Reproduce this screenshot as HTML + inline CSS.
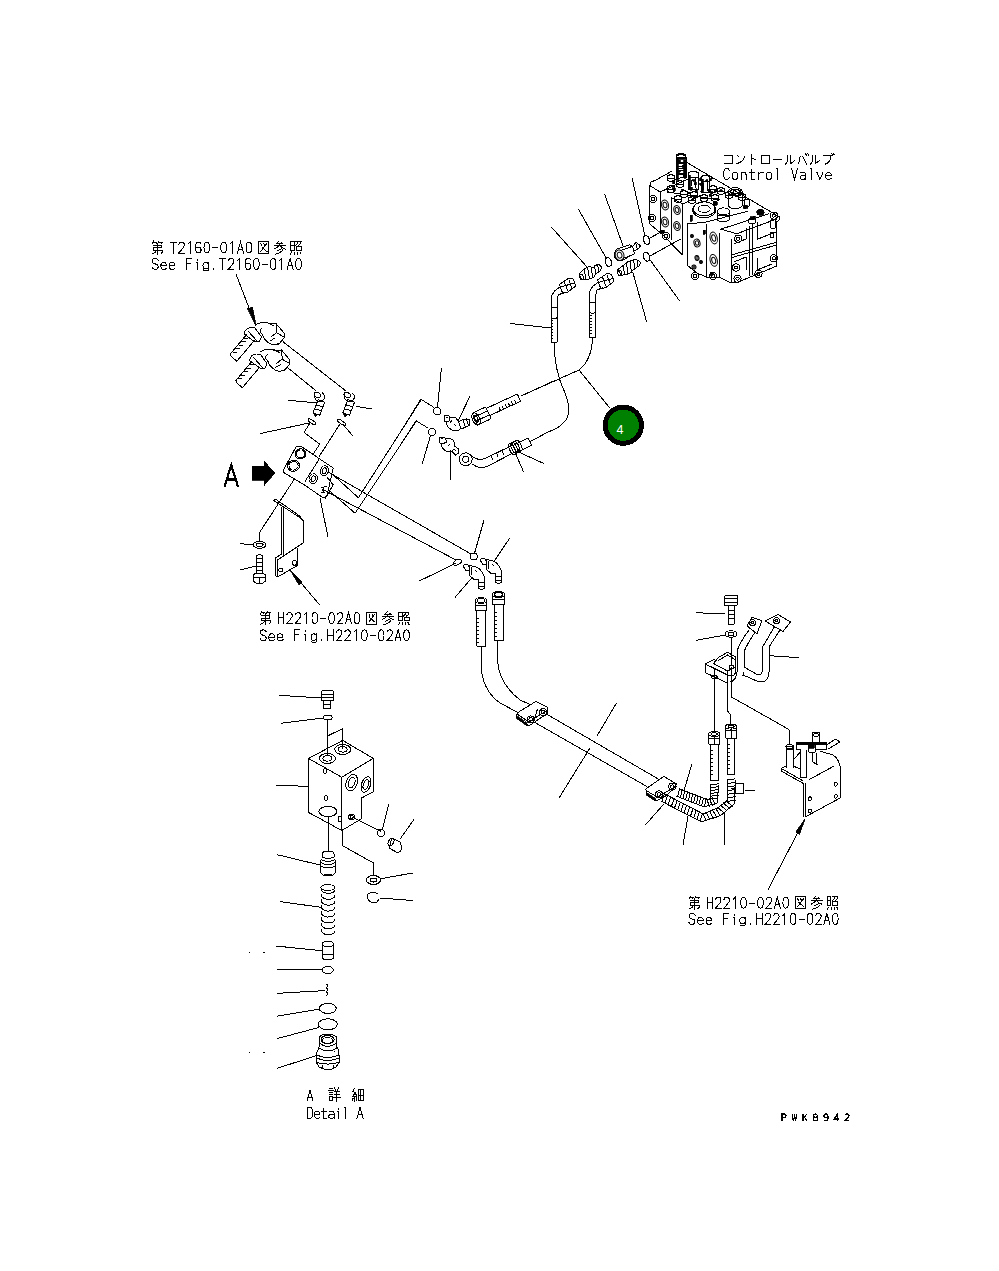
<!DOCTYPE html>
<html><head><meta charset="utf-8"><style>html,body{margin:0;padding:0;background:#fff;width:999px;height:1271px;overflow:hidden}svg{position:absolute;left:0;top:0}</style></head>
<body><svg width="999" height="1271" viewBox="0 0 999 1271" shape-rendering="crispEdges">
<rect width="999" height="1271" fill="#fff"/>
<g fill="none" stroke="#000" stroke-width="1" stroke-linecap="round" stroke-linejoin="round">
<path d="M649.8,224.0 L649.8,185.6 L651.0,182.0 L656.0,180.0 L672.0,171.0"/>
<path d="M676,178 V157 Q681,152 686,157 V178"/>
<ellipse cx="681.0" cy="156.0" rx="5.0" ry="2.2" transform="rotate(0 681.0 156.0)"/>
<path d="M676.0,163.0 L686.0,163.0"/>
<path d="M676.0,168.0 L686.0,168.0"/>
<path d="M676.0,173.0 L686.0,173.0"/>
<path d="M686.0,162.0 L779.3,216.8"/>
<path d="M779.3,216.8 Q781,219 776.7,222"/>
<path d="M776.7,222.0 L776.7,266.0"/>
<path d="M776.7,266.0 L736.0,283.0"/>
<path d="M736.0,283.0 L731.0,282.9"/>
<path d="M731.0,238.7 L731.0,282.9"/>
<path d="M719.3,233.8 L719.3,277.3"/>
<path d="M719.3,277.3 L731.0,282.9"/>
<path d="M720.7,229.2 L736.9,233.7"/>
<path d="M720.7,229.2 L768.5,213.9"/>
<path d="M706.3,222.0 L747.7,211.2"/>
<path d="M736.9,233.7 L776.7,219.0"/>
<path d="M706.7,224.0 L706.7,277.3"/>
<path d="M706.7,277.3 L719.3,277.3"/>
<path d="M687.0,224.0 L687.0,265.0"/>
<path d="M687.0,265.0 L696.8,273.0 L706.7,277.0"/>
<path d="M649.8,185.6 L660.2,192.0"/>
<path d="M660.2,192.0 L690.0,178.0"/>
<path d="M660.2,192.0 L660.2,232.0"/>
<path d="M671.4,197.6 L671.4,240.0"/>
<path d="M682.6,204.0 L682.6,255.0"/>
<path d="M649.8,224.0 L661.8,234.0"/>
<path d="M661.8,234.0 L682.6,255.0"/>
<path d="M671.4,197.6 L682.6,204.0"/>
<path d="M682.6,204.0 L700.0,196.0"/>
<path d="M687.0,224.0 L706.3,222.0"/>
<path d="M731.9,254.8 L776.7,242.2"/>
<path d="M731.9,257.5 L776.7,245.0"/>
<path d="M749.0,226.0 L749.0,276.0"/>
<path d="M752.5,224.5 L752.5,274.5"/>
<path d="M757.7,222.0 L757.7,239.1 L775.7,232.0"/>
<path d="M734.0,244.0 L746.0,239.0 L746.0,228.0"/>
<path d="M734.0,262.0 L746.0,257.0 L746.0,270.0"/>
<path d="M757.0,258.0 L757.0,270.0 L772.0,264.0"/>
<ellipse cx="665.0" cy="205.0" rx="3.5" ry="5.0" transform="rotate(-15 665.0 205.0)"/>
<ellipse cx="665.0" cy="205.0" rx="1.9" ry="2.8" transform="rotate(-15 665.0 205.0)"/>
<ellipse cx="665.0" cy="222.0" rx="3.5" ry="5.0" transform="rotate(-15 665.0 222.0)"/>
<ellipse cx="665.0" cy="222.0" rx="1.9" ry="2.8" transform="rotate(-15 665.0 222.0)"/>
<ellipse cx="677.0" cy="210.0" rx="3.2" ry="4.5" transform="rotate(-15 677.0 210.0)"/>
<ellipse cx="677.0" cy="210.0" rx="1.8" ry="2.5" transform="rotate(-15 677.0 210.0)"/>
<ellipse cx="677.0" cy="226.0" rx="3.2" ry="4.5" transform="rotate(-15 677.0 226.0)"/>
<ellipse cx="677.0" cy="226.0" rx="1.8" ry="2.5" transform="rotate(-15 677.0 226.0)"/>
<ellipse cx="713.7" cy="238.0" rx="3.5" ry="6.0" transform="rotate(-15 713.7 238.0)"/>
<ellipse cx="713.7" cy="238.0" rx="1.9" ry="3.3" transform="rotate(-15 713.7 238.0)"/>
<ellipse cx="713.7" cy="260.4" rx="3.5" ry="6.0" transform="rotate(-15 713.7 260.4)"/>
<ellipse cx="713.7" cy="260.4" rx="1.9" ry="3.3" transform="rotate(-15 713.7 260.4)"/>
<ellipse cx="697.0" cy="243.0" rx="3.0" ry="4.0" transform="rotate(-15 697.0 243.0)"/>
<ellipse cx="697.0" cy="243.0" rx="1.7" ry="2.2" transform="rotate(-15 697.0 243.0)"/>
<ellipse cx="697.0" cy="258.0" rx="2.0" ry="2.5" transform="rotate(-15 697.0 258.0)"/>
<ellipse cx="697.0" cy="258.0" rx="1.1" ry="1.4" transform="rotate(-15 697.0 258.0)"/>
<ellipse cx="692.0" cy="236.0" rx="1.5" ry="1.5" transform="rotate(-15 692.0 236.0)"/>
<ellipse cx="692.0" cy="236.0" rx="0.8" ry="0.8" transform="rotate(-15 692.0 236.0)"/>
<ellipse cx="701.0" cy="262.0" rx="1.5" ry="1.5" transform="rotate(-15 701.0 262.0)"/>
<ellipse cx="701.0" cy="262.0" rx="0.8" ry="0.8" transform="rotate(-15 701.0 262.0)"/>
<ellipse cx="694.0" cy="267.0" rx="2.0" ry="2.0" transform="rotate(-15 694.0 267.0)"/>
<ellipse cx="694.0" cy="267.0" rx="1.1" ry="1.1" transform="rotate(-15 694.0 267.0)"/>
<circle cx="653.0" cy="199.0" r="3.6"/>
<circle cx="653.0" cy="199.0" r="1.6"/>
<circle cx="738.2" cy="238.7" r="3.6"/>
<circle cx="738.2" cy="238.7" r="1.6"/>
<circle cx="773.9" cy="258.3" r="3.6"/>
<circle cx="773.9" cy="258.3" r="1.6"/>
<circle cx="736.1" cy="267.5" r="3.6"/>
<circle cx="736.1" cy="267.5" r="1.6"/>
<circle cx="737.5" cy="278.7" r="3.6"/>
<circle cx="737.5" cy="278.7" r="1.6"/>
<circle cx="758.5" cy="273.8" r="3.6"/>
<circle cx="758.5" cy="273.8" r="1.6"/>
<circle cx="773.9" cy="215.6" r="3.6"/>
<circle cx="773.9" cy="215.6" r="1.6"/>
<circle cx="666.0" cy="236.0" r="3.6"/>
<circle cx="666.0" cy="236.0" r="1.6"/>
<circle cx="695.0" cy="276.0" r="3.6"/>
<circle cx="695.0" cy="276.0" r="1.6"/>
<circle cx="652.0" cy="218.0" r="3.6"/>
<circle cx="652.0" cy="218.0" r="1.6"/>
<circle cx="713.0" cy="276.0" r="3.6"/>
<circle cx="713.0" cy="276.0" r="1.6"/>
<path d="M678.0,162.0 L684.0,162.0"/>
<path d="M678.0,166.0 L684.0,166.0"/>
<path d="M678.0,170.0 L684.0,170.0"/>
<path d="M678.0,174.0 L684.0,174.0"/>
<path d="M688.2,173 Q693,169.5 698.6,173 V189.6 H688.2 Z M688.2,177 H698.6 M691,180 V186 M695,178 V188"/>
<path d="M701,177 Q705,173.5 709.8,177 V192.8 H701 Z M701,181 H709.8 M703.5,183 V190 M707,182 V191"/>
<path d="M667.5,176 Q671,173.5 674.5,176 V180.5 Q671,182.5 667.5,180.5 Z M667.5,178 H674.5"/>
<path d="M676.5,182 Q680,179.5 683.5,182 V186.5 Q680,188.5 676.5,186.5 Z M676.5,184 H683.5"/>
<path d="M667.5,187 Q671,184.5 674.5,187 V191.5 Q671,193.5 667.5,191.5 Z M667.5,189 H674.5"/>
<path d="M680.5,192 Q684,189.5 687.5,192 V196.5 Q684,198.5 680.5,196.5 Z M680.5,194 H687.5"/>
<path d="M690.5,193 Q694,190.5 697.5,193 V197.5 Q694,199.5 690.5,197.5 Z M690.5,195 H697.5"/>
<path d="M700.5,196 Q704,193.5 707.5,196 V200.5 Q704,202.5 700.5,200.5 Z M700.5,198 H707.5"/>
<path d="M709.5,187 Q713,184.5 716.5,187 V191.5 Q713,193.5 709.5,191.5 Z M709.5,189 H716.5"/>
<path d="M717.5,189 Q721,186.5 724.5,189 V193.5 Q721,195.5 717.5,193.5 Z M717.5,191 H724.5"/>
<path d="M725.5,193 Q729,190.5 732.5,193 V197.5 Q729,199.5 725.5,197.5 Z M725.5,195 H732.5"/>
<path d="M733.5,191 Q737,188.5 740.5,191 V195.5 Q737,197.5 733.5,195.5 Z M733.5,193 H740.5"/>
<path d="M738.5,195 Q742,192.5 745.5,195 V199.5 Q742,201.5 738.5,199.5 Z M738.5,197 H745.5"/>
<path d="M711.5,196 Q715,193.5 718.5,196 V200.5 Q715,202.5 711.5,200.5 Z M711.5,198 H718.5"/>
<path d="M688.5,198 Q692,195.5 695.5,198 V202.5 Q692,204.5 688.5,202.5 Z M688.5,200 H695.5"/>
<path d="M674.5,197 Q678,194.5 681.5,197 V201.5 Q678,203.5 674.5,201.5 Z M674.5,199 H681.5"/>
<path d="M667.4,192.0 L720.0,200.0"/>
<path d="M672.0,181.0 L686.0,176.0"/>
<ellipse cx="704.2" cy="208.8" rx="10.8" ry="7.2" transform="rotate(0 704.2 208.8)"/>
<ellipse cx="704.2" cy="208.8" rx="6.0" ry="3.5" transform="rotate(0 704.2 208.8)"/>
<ellipse cx="704.2" cy="209.8" rx="11.5" ry="8.0" transform="rotate(0 704.2 209.8)"/>
<ellipse cx="735.1" cy="191.6" rx="7.0" ry="4.0" transform="rotate(0 735.1 191.6)"/>
<ellipse cx="735.1" cy="191.6" rx="4.5" ry="2.5" transform="rotate(0 735.1 191.6)"/>
<path d="M728.0,191.6 L728.0,206.0"/>
<path d="M742.3,191.6 L742.3,206.0"/>
<path d="M728,206 Q735,212 742.3,206"/>
<ellipse cx="723.4" cy="211.4" rx="6.0" ry="3.5" transform="rotate(0 723.4 211.4)"/>
<path d="M717.4,211.4 L717.4,220.0"/>
<path d="M729.4,211.4 L729.4,220.0"/>
<path d="M717.4,220 Q723,224 729.4,220"/>
<path d="M717.4,215.5 L729.4,215.5"/>
<ellipse cx="747.0" cy="203.0" rx="3.0" ry="4.0" transform="rotate(0 747.0 203.0)"/>
<ellipse cx="752.0" cy="221.0" rx="4.0" ry="3.0" transform="rotate(0 752.0 221.0)"/>
<ellipse cx="773.0" cy="224.0" rx="3.0" ry="5.0" transform="rotate(0 773.0 224.0)"/>
<ellipse cx="772.0" cy="235.0" rx="2.0" ry="3.0" transform="rotate(0 772.0 235.0)"/>
<ellipse cx="666.0" cy="268.0" rx="0.1" ry="0.1" transform="rotate(0 666.0 268.0)"/>
<path d="M551.2,226.9 L587.2,267.2"/>
<path d="M578.4,209.2 L605.7,257.3"/>
<path d="M604.9,194.8 L623.2,246.4"/>
<path d="M632.1,178.0 L644.9,235.7"/>
<path d="M679.3,300.5 L650.5,260.5"/>
<path d="M646.5,321.3 L632.9,272.5"/>
<ellipse cx="608.4" cy="262.0" rx="3.0" ry="4.5" transform="rotate(-20 608.4 262.0)"/>
<ellipse cx="646.5" cy="240.0" rx="3.0" ry="4.5" transform="rotate(-20 646.5 240.0)"/>
<ellipse cx="646.5" cy="256.8" rx="3.0" ry="4.5" transform="rotate(-20 646.5 256.8)"/>
<path d="M649.7,238.1 L660.1,232.5"/>
<path d="M650.5,255.7 L681.0,238.9"/>
<path d="M579.2,273.6 L584.0,268.8 L589.6,266.4 L592.8,268.0 L595.2,265.6 L598.4,264.0 L601.6,267.2 L600.0,271.2 L595.2,274.4 L593.6,277.6 L588.0,279.2 L581.6,280.0 Z"/>
<ellipse cx="581.6" cy="277.2" rx="2.0" ry="2.8" transform="rotate(-20 581.6 277.2)"/>
<path d="M584.0,268.8 L586.0,279.5"/>
<path d="M587.5,267.5 L589.5,278.5"/>
<path d="M591.0,267.0 L592.5,276.5"/>
<path d="M594.5,266.0 L596.0,274.0"/>
<path d="M597.5,264.5 L599.0,272.5"/>
<path d="M616.8,249.2 L629.6,244.8 L632.8,246.4 L636,242.4 L640.5,245.6 L638.5,248.8 L633.6,251.2 L634.4,253.6 L621.6,260.8 Q614,261 614.5,254 Q615,250 616.8,249.2 Z"/>
<ellipse cx="619.6" cy="255.2" rx="4.3" ry="5.3" transform="rotate(-15 619.6 255.2)"/>
<ellipse cx="619.6" cy="255.2" rx="2.3" ry="3.0" transform="rotate(-15 619.6 255.2)"/>
<path d="M620.8,250.4 L631.2,246.8"/>
<path d="M623.2,258.4 L633.6,254.4"/>
<path d="M632.8,246.4 L633.6,251.2"/>
<path d="M636.0,244.0 L637.5,249.5"/>
<path d="M617.6,269.6 L623.2,265.6 L628.0,261.6 L636.0,259.2 L640.9,262.4 L639.3,265.6 L633.6,269.6 L629.6,273.6 L621.6,275.2 Z"/>
<ellipse cx="619.6" cy="272.8" rx="2.0" ry="2.8" transform="rotate(-20 619.6 272.8)"/>
<path d="M623.2,265.6 L624.5,274.5"/>
<path d="M626.5,263.5 L628.0,273.5"/>
<path d="M630.0,261.0 L631.5,272.5"/>
<path d="M633.5,260.0 L635.0,268.5"/>
<path d="M637.0,259.7 L638.0,266.5"/>
<path d="M559.4,284.4 L569.0,278.0 L573.0,278.8 L575.8,286.0 L567.4,292.4 L562.6,293.2 Z M564.2,281.5 L567.5,290.0 M569.0,280.0 L572.0,288.5 M560.0,287.0 L575.0,283.0"/>
<path d="M560.2,286.8 L554.6,290.8 L551.4,296.4 V342.0 H557.4 V298.0 L558.6,294.8 L564.2,292.4"/>
<path d="M551.4,306.8 Q554.4,308.8 557.4,306.8 M551.4,317.6 Q554.4,319.6 557.4,317.6"/>
<path d="M551.4,320 H553.4"/>
<path d="M551.4,323 H553.4"/>
<path d="M551.4,326 H553.4"/>
<path d="M551.4,329 H553.4"/>
<path d="M551.4,332 H553.4"/>
<path d="M551.4,335 H553.4"/>
<path d="M551.4,338 H553.4"/>
<path d="M597.6,279.8 L607.2,273.4 L611.2,274.2 L614.0,281.4 L605.6,287.8 L600.8,288.6 Z M602.4,276.9 L605.7,285.4 M607.2,275.4 L610.2,283.9 M598.2,282.4 L613.2,278.4"/>
<path d="M598.4,282.2 L592.8,286.2 L589.6,291.8 V337.3 H595.6 V295.6 L596.8,290.2 L602.4,287.8"/>
<path d="M589.6,302.0 Q592.6,304.0 595.6,302.0 M589.6,312.4 Q592.6,314.4 595.6,312.4"/>
<path d="M589.6,315 H591.6"/>
<path d="M589.6,318 H591.6"/>
<path d="M589.6,321 H591.6"/>
<path d="M589.6,324 H591.6"/>
<path d="M589.6,327 H591.6"/>
<path d="M589.6,330 H591.6"/>
<path d="M589.6,333 H591.6"/>
<path d="M510.0,323.4 L550.5,328.0"/>
<path d="M554.2,342 Q554,370 565,393 Q572,410 566,420 Q560,428 548,432"/>
<path d="M592.6,337 Q592,360 579,370 L521,396"/>
<path d="M579.0,370.0 L609.7,407.9"/>
<g transform="rotate(-25 481.7 416.0)"><rect x="474.2" y="409.5" width="15.0" height="13.0" rx="1.5"/><path d="M474.2,413.8 H489.2 M474.2,418.2 H489.2"/></g>
<ellipse cx="476.0" cy="419.0" rx="3.5" ry="6.5" transform="rotate(-25 476.0 419.0)"/>
<ellipse cx="476.0" cy="419.0" rx="1.8" ry="3.5" transform="rotate(-25 476.0 419.0)"/>
<path d="M489.7,415.6 L520.7,401.2"/>
<path d="M486.3,408.4 L517.3,394.0"/>
<path d="M489.7,415.6 L486.3,408.4"/>
<path d="M520.7,401.2 L517.3,394.0"/>
<path d="M500.5,410.6 L499.2,407.7"/>
<path d="M503.6,409.1 L502.3,406.2"/>
<path d="M506.7,407.7 L505.4,404.8"/>
<path d="M509.8,406.3 L508.5,403.4"/>
<path d="M512.9,404.8 L511.6,401.9"/>
<path d="M516.0,403.4 L514.7,400.5"/>
<path d="M521.0,396.0 L556.0,380.0"/>
<circle cx="465.7" cy="459.3" r="6.5"/>
<circle cx="465.7" cy="459.3" r="3.0"/>
<path d="M471,455 Q478,462 486,458 L513,445 M472,464 Q480,470 488,466 L515,452"/>
<path d="M516.8,452.6 L531.8,445.3"/>
<path d="M513.2,445.4 L528.2,438.1"/>
<path d="M516.8,452.6 L513.2,445.4"/>
<path d="M531.8,445.3 L528.2,438.1"/>
<path d="M530.0,441.7 L548.0,432.0"/>
<ellipse cx="512.0" cy="449.0" rx="2.5" ry="6.0" transform="rotate(-25 512.0 449.0)"/>
<ellipse cx="514.2" cy="447.9" rx="2.5" ry="6.0" transform="rotate(-25 514.2 447.9)"/>
<ellipse cx="516.4" cy="446.8" rx="2.5" ry="6.0" transform="rotate(-25 516.4 446.8)"/>
<ellipse cx="518.6" cy="445.7" rx="2.5" ry="6.0" transform="rotate(-25 518.6 445.7)"/>
<path d="M491.4,455.4 L492.4,459.4"/>
<path d="M496.8,452.8 L497.8,456.8"/>
<path d="M502.2,450.2 L503.2,454.2"/>
<path d="M518.5,452.0 L543.3,463.3"/>
<path d="M515.3,452.9 L523.3,471.3"/>
<circle cx="437.2" cy="411.2" r="3.8"/>
<circle cx="432.0" cy="432.0" r="3.8"/>
<path d="M400.0,432.9 L420.8,399.2 L433.6,407.2"/>
<path d="M400.0,445.7 L416.0,420.8 L428.0,428.0"/>
<path d="M437.5,407.5 L441.3,368.8"/>
<path d="M430.4,436.0 L422.4,463.3"/>
<path d="M469.7,396.8 L458.5,420.0"/>
<path d="M450.4,450.5 L450.4,479.3"/>
<path d="M444,417 Q444,415.5 446,415.5 H448.5 Q449.5,416 449.5,418 V420.5 Q448,422 445,422 Q444,421 444,419 Z M446,418 L447.5,417.5"/>
<path d="M449.5,418 L451,417 H455 L458.5,421.5 M446,422 Q447,427 450,428.5 L452,430 H459 L461,428 M452,420 L450,423 M454,424 L456,426"/>
<path d="M458.5,421.5 L461,420.5 L465,419 H469 L470,423 L469,425.5 L466,427 L461,429 Z M463,420 L465.5,427.5 M466.5,419 L468.5,426"/>
<path d="M439.2,438 Q439,437 441,437 H444 Q446,438 446,440 V442.5 Q444,443.5 441,443.5 Q439,443 439.2,441 Z M441,439 L443,438.5"/>
<path d="M446,438.5 L449.6,438.4 L453,440 L454.5,443 V446 M441,444 Q441.5,448 444,449.5 L446,451 H452 L454,449 M448,446 L450,444"/>
<path d="M454.5,446 L458.5,449 V453 L455.5,455 L452.5,452 M454,449 L456,451"/>
<path d="M296,447 Q299,445 302,447 L333.2,468 L326.9,496 Q325,498 322,497 L303,484 L286,474 Q282,472 284,469 Z"/>
<path d="M319.8,458.1 L305.1,481.3"/>
<ellipse cx="300.6" cy="453.9" rx="5.5" ry="5.0" transform="rotate(-20 300.6 453.9)"/>
<ellipse cx="300.6" cy="453.9" rx="4.3" ry="3.8" transform="rotate(-20 300.6 453.9)"/>
<ellipse cx="293.6" cy="465.8" rx="6.0" ry="5.5" transform="rotate(-20 293.6 465.8)"/>
<ellipse cx="293.6" cy="465.8" rx="4.6" ry="4.2" transform="rotate(-20 293.6 465.8)"/>
<ellipse cx="324.4" cy="470.7" rx="4.0" ry="5.0" transform="rotate(20 324.4 470.7)"/>
<ellipse cx="324.4" cy="470.7" rx="2.0" ry="3.0" transform="rotate(20 324.4 470.7)"/>
<ellipse cx="313.2" cy="478.8" rx="4.0" ry="5.0" transform="rotate(20 313.2 478.8)"/>
<ellipse cx="313.2" cy="478.8" rx="2.0" ry="3.0" transform="rotate(20 313.2 478.8)"/>
<path d="M326.9,477.0 L333.2,484.8 L325.5,498.0"/>
<path d="M321,488 L327,486 M324,487 L323,493 M322,491 L326,490 M321,493 L325,492"/>
<path d="M333.0,474.7 L358.4,497.8 L421.1,399.8"/>
<path d="M328.6,490.1 L355.0,513.2 L416.7,420.7"/>
<path d="M328.0,472.0 L471.2,554.1"/>
<path d="M322.0,489.0 L455.0,559.5"/>
<path d="M320.0,498.0 L328.0,537.0"/>
<path d="M273.6,500.4 L275,498.8 L299.2,515.6 L303.2,520.8 M273.6,500.4 L299.2,517.2 L303.2,520.8 V542.8 L284,555.7"/>
<path d="M281.6,507.2 V554 L275.6,558 V576 L277.6,577 L297.6,565.3 V548.4 M283.6,507.2 V556 L277.6,560 V577"/>
<circle cx="280.8" cy="570.0" r="2.0"/>
<circle cx="294.4" cy="562.9" r="2.3"/>
<path d="M293.9,479.8 L259.6,532.4 L259.6,541.0"/>
<ellipse cx="259.6" cy="544.8" rx="6.5" ry="3.5" transform="rotate(0 259.6 544.8)"/>
<ellipse cx="259.6" cy="544.8" rx="3.5" ry="1.6" transform="rotate(0 259.6 544.8)"/>
<path d="M240.0,543.6 L253.0,545.0"/>
<path d="M256.4,573.3 V556 Q259.6,553.5 262.8,556 V573.3 M256.4,558 H262.8 M256.4,562 H262.8 M256.4,566 H262.8 M256.4,570 H262.8"/>
<path d="M253.2,575 L256,573 H263 L265.6,575 V581 L263,583 H256 L253.2,581 Z M253.2,577 H265.6 M259.6,577 V583"/>
<path d="M240.0,570.0 L256.0,566.0"/>
<path d="M289.6,569.3 L319.8,605.1"/>
<ellipse cx="312.0" cy="421.8" rx="4.6" ry="1.6" transform="rotate(35 312.0 421.8)"/>
<ellipse cx="341.5" cy="422.4" rx="5.0" ry="1.6" transform="rotate(35 341.5 422.4)"/>
<path d="M260.0,433.6 L310.0,422.8"/>
<path d="M343.1,424.7 L352.6,435.5"/>
<path d="M310.0,422.8 L304.1,432.5 L319.7,444.2 L313.2,454.0"/>
<path d="M339.9,424.1 L319.1,456.6"/>
<ellipse cx="317.4" cy="395.0" rx="3.5" ry="2.5" transform="rotate(30 317.4 395.0)"/>
<path d="M314.4,397 Q316.4,404 323.4,400 Q326.4,396 322.4,393"/>
<path d="M318.1,399.7 L313.1,412.7"/>
<path d="M324.7,402.3 L319.7,415.3"/>
<path d="M318.1,399.7 L324.7,402.3"/>
<path d="M313.1,412.7 L319.7,415.3"/>
<path d="M316.4,405.0 L323.4,407.0"/>
<path d="M315.4,409.0 L322.4,411.0"/>
<ellipse cx="347.2" cy="395.0" rx="3.5" ry="2.5" transform="rotate(30 347.2 395.0)"/>
<path d="M344.2,397 Q346.2,404 353.2,400 Q356.2,396 352.2,393"/>
<path d="M347.9,399.7 L342.9,412.7"/>
<path d="M354.5,402.3 L349.5,415.3"/>
<path d="M347.9,399.7 L354.5,402.3"/>
<path d="M342.9,412.7 L349.5,415.3"/>
<path d="M346.2,405.0 L353.2,407.0"/>
<path d="M345.2,409.0 L352.2,411.0"/>
<path d="M288.9,400.4 L317.9,403.0"/>
<path d="M371.5,408.9 L356.1,406.4"/>
<path d="M283.0,341.7 L345.9,391.0"/>
<path d="M288.0,368.0 L315.3,390.2"/>
<path d="M246.4,334.8 L230.4,354.0 L231.0,356.0 L236.8,361.3 L254.4,340.4"/>
<path d="M244.4,338.0 H248.4"/>
<path d="M241.5,341.5 H245.5"/>
<path d="M238.5,345.0 H242.5"/>
<path d="M235.5,348.5 H239.5"/>
<path d="M232.5,352.0 H236.5"/>
<path d="M244.0,334.0 Q245.0,328.0 251.0,327.5 L255.0,328.0 L261.5,337.0 L259.5,341.5 L255.0,342.0 Z M248.0,331.0 L257.0,341.0"/>
<path d="M255.0,325.0 Q261.0,321.5 268.0,323.0 L274.0,326.0 M262.0,334.0 Q258.0,331.0 262.0,328.0 M262.0,334.0 Q265.0,343.0 274.0,345.0 L280.0,343.0"/>
<path d="M268.0,324.0 L276.0,323.5 L284.0,333.0 L284.0,338.0 L279.0,344.0 L273.0,345.0 M276.0,325.0 L277.0,333.0 L284.0,337.0 M271.0,337.0 L276.0,333.0 M270.0,341.0 L275.0,338.0"/>
<path d="M251.9,361.3 L235.9,380.5 L236.5,382.5 L242.3,387.8 L259.9,366.9"/>
<path d="M249.9,364.5 H253.9"/>
<path d="M247.0,368.0 H251.0"/>
<path d="M244.0,371.5 H248.0"/>
<path d="M241.0,375.0 H245.0"/>
<path d="M238.0,378.5 H242.0"/>
<path d="M249.5,360.5 Q250.5,354.5 256.5,354.0 L260.5,354.5 L267.0,363.5 L265.0,368.0 L260.5,368.5 Z M253.5,357.5 L262.5,367.5"/>
<path d="M260.5,351.5 Q266.5,348.0 273.5,349.5 L279.5,352.5 M267.5,360.5 Q263.5,357.5 267.5,354.5 M267.5,360.5 Q270.5,369.5 279.5,371.5 L285.5,369.5"/>
<path d="M273.5,350.5 L281.5,350.0 L289.5,359.5 L289.5,364.5 L284.5,370.5 L278.5,371.5 M281.5,351.5 L282.5,359.5 L289.5,363.5 M276.5,363.5 L281.5,359.5 M275.5,367.5 L280.5,364.5"/>
<path d="M236.0,274.0 L255.7,325.5"/>
<circle cx="473.9" cy="556.5" r="3.5"/>
<ellipse cx="457.3" cy="562.3" rx="4.5" ry="2.5" transform="rotate(-30 457.3 562.3)"/>
<path d="M418.9,581.2 L455.9,563.2"/>
<path d="M483.8,520.8 L474.8,552.3"/>
<path d="M509.9,537.9 L494.6,560.5"/>
<path d="M455.0,597.4 L471.2,578.5"/>
<path d="M463.0,566.0 L465.0,564.5 L468.0,565.0 L470.0,568.0 L469.0,570.5 L466.0,570.5 Z"/>
<path d="M468.0,565.0 L472.0,566.0 L474.0,566.5 Q481.0,567.0 484.5,577.5 V589.0 M469.0,570.5 L470.0,576.0 L473.5,579.0 L478.5,580.0 V589.0"/>
<path d="M478.5,582.0 H484.5 M478.5,586.0 H484.5 M478.5,588.0 Q481.5,591.0 484.5,588.0 M472.0,567.0 L471.0,575.0 M475.0,570.0 L477.0,572.0"/>
<path d="M480.0,560.0 L482.0,558.5 L485.0,559.0 L487.0,562.0 L486.0,564.5 L483.0,564.5 Z"/>
<path d="M485.0,559.0 L489.0,560.0 L491.0,560.5 Q498.0,561.0 501.5,571.5 V583.0 M486.0,564.5 L487.0,570.0 L490.5,573.0 L495.5,574.0 V583.0"/>
<path d="M495.5,576.0 H501.5 M495.5,580.0 H501.5 M495.5,582.0 Q498.5,585.0 501.5,582.0 M489.0,561.0 L488.0,569.0 M492.0,564.0 L494.0,566.0"/>
<ellipse cx="481.0" cy="600.5" rx="5.8" ry="3.0" transform="rotate(0 481.0 600.5)"/>
<ellipse cx="481.0" cy="600.5" rx="3.8" ry="2.0" transform="rotate(0 481.0 600.5)"/>
<path d="M475.2,600.5 L475.2,610.0"/>
<path d="M486.8,600.5 L486.8,610.0"/>
<path d="M475.2,605.0 L486.8,605.0"/>
<path d="M475.2,610.0 L486.8,610.0"/>
<path d="M476.5,610.0 L476.5,646.0"/>
<path d="M485.5,610.0 L485.5,646.0"/>
<path d="M476.5,610.0 L485.5,610.0"/>
<path d="M476.5,646.0 L485.5,646.0"/>
<path d="M476.5,618.0 L479.0,618.0"/>
<path d="M476.5,622.0 L479.0,622.0"/>
<path d="M476.5,626.0 L479.0,626.0"/>
<path d="M476.5,630.0 L479.0,630.0"/>
<path d="M476.5,634.0 L479.0,634.0"/>
<path d="M476.5,638.0 L479.0,638.0"/>
<path d="M476.5,642.0 L479.0,642.0"/>
<ellipse cx="498.5" cy="594.5" rx="6.2" ry="3.0" transform="rotate(0 498.5 594.5)"/>
<ellipse cx="498.5" cy="594.5" rx="4.2" ry="2.0" transform="rotate(0 498.5 594.5)"/>
<path d="M492.2,594.5 L492.2,604.6"/>
<path d="M504.8,594.5 L504.8,604.6"/>
<path d="M492.2,599.0 L504.8,599.0"/>
<path d="M492.2,604.6 L504.8,604.6"/>
<path d="M494.0,604.6 L494.0,640.6"/>
<path d="M503.0,604.6 L503.0,640.6"/>
<path d="M494.0,604.6 L503.0,604.6"/>
<path d="M494.0,640.6 L503.0,640.6"/>
<path d="M494.0,612.0 L496.5,612.0"/>
<path d="M494.0,616.0 L496.5,616.0"/>
<path d="M494.0,620.0 L496.5,620.0"/>
<path d="M494.0,624.0 L496.5,624.0"/>
<path d="M494.0,628.0 L496.5,628.0"/>
<path d="M494.0,632.0 L496.5,632.0"/>
<path d="M494.0,636.0 L496.5,636.0"/>
<path d="M481,646 V665 Q482,690 500,703 L517.4,712.2"/>
<path d="M497.6,641 V662 Q500,685 520.4,700.2 L530,704.4"/>
<path d="M517.4,712.8 L536,701.4 L547.4,707.4 V713.4 L528.8,726 L516.2,716.4 Z M537.2,709.8 L533.6,722.4 M517,714 L528.8,722 L547.4,710"/>
<circle cx="530.6" cy="719.4" r="3.5"/>
<circle cx="530.6" cy="719.4" r="1.8"/>
<circle cx="543.2" cy="712.2" r="3.5"/>
<circle cx="543.2" cy="712.2" r="1.8"/>
<path d="M547.4,714.6 L659.0,779.4"/>
<path d="M534.8,722.4 L647.0,786.6"/>
<path d="M616.2,703.5 L597.0,736.0"/>
<path d="M590.0,748.0 L559.0,798.0"/>
<path d="M645.8,789 L663.8,776.4 L677,784.2 L667.4,795 L656.6,801 L647,793.8 Z M647,791 L657,797 L677,786"/>
<circle cx="672.2" cy="786.6" r="3.5"/>
<circle cx="672.2" cy="786.6" r="1.8"/>
<circle cx="659.0" cy="794.4" r="3.5"/>
<circle cx="659.0" cy="794.4" r="1.8"/>
<path d="M677.7,796.7 L679.4,788.8"/>
<path d="M680.3,797.7 L682.1,789.8"/>
<path d="M683.0,798.7 L684.8,790.8"/>
<path d="M685.6,799.8 L687.4,791.9"/>
<path d="M688.3,800.8 L690.1,792.9"/>
<path d="M691.0,801.8 L692.7,793.9"/>
<path d="M693.6,802.9 L695.4,795.0"/>
<path d="M696.3,803.9 L698.1,796.0"/>
<path d="M698.9,804.9 L700.7,797.0"/>
<path d="M701.6,806.0 L703.4,798.1"/>
<path d="M704.3,807.0 L706.0,799.1"/>
<path d="M709.4,806.1 L706.5,798.6"/>
<path d="M712.2,805.5 L709.3,798.0"/>
<path d="M715.0,804.9 L712.0,797.3"/>
<path d="M718.1,798.1 L710.0,799.2"/>
<path d="M718.1,795.3 L710.1,796.3"/>
<path d="M718.2,792.4 L710.1,793.5"/>
<path d="M718.2,789.6 L710.2,790.6"/>
<path d="M718.3,786.7 L710.2,787.8"/>
<path d="M718.3,783.9 L710.3,784.9"/>
<path d="M676.6,796.2 L704.1,806.9 L717.6,802.8 L718.3,785.1"/>
<path d="M679.4,788.8 L705.9,799.1 L710.4,799.2 L710.3,784.9"/>
<path d="M661.8,801.5 L664.4,793.8"/>
<path d="M665.0,803.1 L667.6,795.5"/>
<path d="M668.2,804.8 L670.8,797.1"/>
<path d="M671.4,806.4 L674.0,798.8"/>
<path d="M674.5,808.1 L677.1,800.4"/>
<path d="M677.7,809.7 L680.3,802.0"/>
<path d="M680.9,811.3 L683.5,803.7"/>
<path d="M684.1,813.0 L686.7,805.3"/>
<path d="M687.2,814.6 L689.8,807.0"/>
<path d="M690.4,816.3 L693.0,808.6"/>
<path d="M693.6,817.9 L696.2,810.2"/>
<path d="M696.7,819.5 L699.4,811.9"/>
<path d="M699.9,821.2 L702.5,813.5"/>
<path d="M706.5,820.6 L702.6,813.5"/>
<path d="M709.8,819.4 L705.9,812.3"/>
<path d="M713.2,818.2 L709.3,811.1"/>
<path d="M716.5,817.0 L712.6,809.9"/>
<path d="M719.9,815.7 L716.0,808.6"/>
<path d="M723.9,813.0 L717.9,807.5"/>
<path d="M726.7,810.7 L720.7,805.3"/>
<path d="M729.4,808.5 L723.5,803.0"/>
<path d="M732.2,806.2 L726.2,800.8"/>
<path d="M735.1,800.2 L727.1,801.4"/>
<path d="M735.1,796.7 L727.1,797.9"/>
<path d="M735.1,793.1 L727.1,794.3"/>
<path d="M735.1,789.5 L727.1,790.7"/>
<path d="M735.1,785.9 L727.1,787.1"/>
<path d="M735.1,782.4 L727.1,783.6"/>
<path d="M735.1,778.8 L727.1,780.0"/>
<path d="M660.8,801.0 L701.3,821.8 L720.9,815.3 L734.8,803.4 L735.1,780.0"/>
<path d="M664.4,793.8 L703.3,814.0 L717.1,808.3 L727.4,800.6 L727.1,780.0"/>
<path d="M691.5,765.0 L684.2,790.2"/>
<path d="M645.8,824.5 L663.8,804.0"/>
<path d="M683.0,845.0 L687.9,816.7"/>
<path d="M724.5,845.0 L724.5,813.0"/>
<path d="M755.0,790.2 L743.7,790.0"/>
<path d="M735.9,783 H743.7 V793.2 H735.9 Z M731,788 H735.9"/>
<ellipse cx="714.3" cy="734.0" rx="5.5" ry="2.5" transform="rotate(0 714.3 734.0)"/>
<ellipse cx="714.3" cy="734.0" rx="3.0" ry="1.3" transform="rotate(0 714.3 734.0)"/>
<path d="M708.8,734 V744 H719.8 V734 M708.8,738 H719.8 M714.3,736 V744"/>
<path d="M710.5,744.0 L710.5,780.6"/>
<path d="M718.0,744.0 L718.0,780.6"/>
<path d="M710.5,744.0 L718.0,744.0"/>
<path d="M710.5,780.6 L718.0,780.6"/>
<path d="M710.6,750.0 L712.8,750.0"/>
<path d="M710.6,754.0 L712.8,754.0"/>
<path d="M710.6,758.0 L712.8,758.0"/>
<path d="M710.6,762.0 L712.8,762.0"/>
<path d="M710.6,766.0 L712.8,766.0"/>
<path d="M710.6,770.0 L712.8,770.0"/>
<path d="M710.6,774.0 L712.8,774.0"/>
<ellipse cx="731.1" cy="726.6" rx="5.5" ry="2.5" transform="rotate(0 731.1 726.6)"/>
<ellipse cx="731.1" cy="726.6" rx="3.0" ry="1.3" transform="rotate(0 731.1 726.6)"/>
<path d="M725.6,726.6 V738 H736.6 V726.6 M725.6,730.6 H736.6 M731.1,728.6 V738"/>
<path d="M727.4,738.0 L727.4,774.6"/>
<path d="M734.9,738.0 L734.9,774.6"/>
<path d="M727.4,738.0 L734.9,738.0"/>
<path d="M727.4,774.6 L734.9,774.6"/>
<path d="M727.4,744.0 L729.6,744.0"/>
<path d="M727.4,748.0 L729.6,748.0"/>
<path d="M727.4,752.0 L729.6,752.0"/>
<path d="M727.4,756.0 L729.6,756.0"/>
<path d="M727.4,760.0 L729.6,760.0"/>
<path d="M727.4,764.0 L729.6,764.0"/>
<path d="M727.4,768.0 L729.6,768.0"/>
<path d="M705.3,664 L714.5,659.3 M705.3,664 V672.5 L714.5,677 M705.3,664 L714.5,668.5 L727.5,675 M714.5,668.5 V677 M713.5,663.5 L718.5,657.5 L727.5,652.3 L735.5,657 V673 L733.5,675.5 H727.5 M713.5,663.5 L727.5,671 L735.5,667 M727.5,671 V690 M714.5,677 L727.5,683 M718.5,660.5 L727.5,655 L735,659.5"/>
<ellipse cx="714.3" cy="677.0" rx="3.0" ry="1.5" transform="rotate(0 714.3 677.0)"/>
<ellipse cx="731.5" cy="667.0" rx="2.5" ry="1.5" transform="rotate(0 731.5 667.0)"/>
<g transform="rotate(0 731.0 600.5)"><rect x="724.5" y="595.5" width="13.0" height="10.0" rx="1.5"/><path d="M724.5,598.8 H737.5 M724.5,602.2 H737.5"/></g>
<path d="M728.0,605.5 L728.0,624.0"/>
<path d="M734.0,605.5 L734.0,624.0"/>
<path d="M728.0,605.5 L734.0,605.5"/>
<path d="M728.0,624.0 L734.0,624.0"/>
<path d="M728.0,610.0 L734.0,610.0"/>
<path d="M728.0,614.0 L734.0,614.0"/>
<path d="M728.0,618.0 L734.0,618.0"/>
<path d="M696.4,612.7 L725.0,614.0"/>
<ellipse cx="731.0" cy="634.0" rx="6.0" ry="3.2" transform="rotate(0 731.0 634.0)"/>
<ellipse cx="731.0" cy="634.0" rx="3.0" ry="1.6" transform="rotate(0 731.0 634.0)"/>
<path d="M696.4,640.3 L725.0,635.0"/>
<path d="M731.0,637.0 L731.0,666.0"/>
<path d="M749,630 Q740,642 737,651 V672 Q736,681 730,682"/>
<path d="M754.5,633 Q746,646 744,652 V667 L758,675 Q762,675 762,672 V648 L774,627.5"/>
<path d="M744,672 Q742,678 743,675 L758,681.5 Q768,684 769,672 V647 L780,630"/>
<path d="M747,626 L752,617.5 L762,620.5 L757,633.5 Z M765,621 L778,614.5 L790.5,622 L783,631.5 Z"/>
<circle cx="752.5" cy="622.5" r="3.0"/>
<circle cx="752.5" cy="622.5" r="1.5"/>
<circle cx="776.5" cy="620.5" r="3.0"/>
<circle cx="776.5" cy="620.5" r="1.5"/>
<path d="M770.0,655.7 L798.6,657.7"/>
<path d="M714.5,678.0 L714.5,731.0"/>
<path d="M727.5,683.0 L727.5,711.0 L730.0,714.0 L730.0,724.0"/>
<path d="M731.5,667.0 L731.5,697.0"/>
<path d="M731.5,697.0 L789.0,729.5 L789.0,745.0"/>
<path d="M786,747 V767.6 M793.4,747 V767.6"/>
<ellipse cx="789.7" cy="746.5" rx="3.7" ry="2.0" transform="rotate(0 789.7 746.5)"/>
<ellipse cx="789.7" cy="748.0" rx="3.7" ry="1.5" transform="rotate(0 789.7 748.0)"/>
<path d="M781.3,768.5 L786,766 M793.4,766 L800,769 M781.3,768.5 V771 L803.3,783.5 M781.3,768.5 L803.3,781"/>
<path d="M803.3,783 V817 M805.1,783 V817 L840.1,798 V765.9 Q838,758 833,755 L820.2,751.2"/>
<path d="M809.0,779.7 L833.6,766.3"/>
<path d="M796.4,742.9 V749.4 H800.3 V777.1 H806.4 V750 M826.3,742.9 V749.4 H815 M793.4,760 L800.3,752"/>
<path d="M812.4,742.5 V733 Q816,731 819.8,733 V742.5"/>
<ellipse cx="816.0" cy="735.0" rx="2.5" ry="1.5" transform="rotate(0 816.0 735.0)"/>
<path d="M826.3,745 L835.8,739 L840,742 L828,749"/>
<path d="M808.5,743.4 H815 V752 H808.5 Z"/>
<path d="M812.4,752 V761.6 L817.6,765 M816,753 V764"/>
<ellipse cx="835.8" cy="784.1" rx="1.5" ry="2.0" transform="rotate(20 835.8 784.1)"/>
<ellipse cx="835.8" cy="796.2" rx="1.5" ry="2.0" transform="rotate(20 835.8 796.2)"/>
<ellipse cx="809.8" cy="798.8" rx="1.5" ry="2.0" transform="rotate(20 809.8 798.8)"/>
<ellipse cx="809.8" cy="810.9" rx="1.5" ry="2.0" transform="rotate(20 809.8 810.9)"/>
<path d="M805.0,819.0 L768.3,889.1"/>
<path d="M308.5,758.4 L342.7,740.4 L373.3,758.4 L373.3,791.7 L361.6,798 L361.6,818.7 L341.8,830.5 L308.5,812.4 Z"/>
<path d="M308.5,758.4 L341.8,777.3"/>
<path d="M341.8,777.3 L373.3,758.4"/>
<path d="M341.8,777.3 L341.8,830.5"/>
<ellipse cx="327.4" cy="758.4" rx="8.0" ry="5.0" transform="rotate(0 327.4 758.4)"/>
<ellipse cx="327.4" cy="758.4" rx="4.5" ry="2.7" transform="rotate(0 327.4 758.4)"/>
<ellipse cx="342.7" cy="749.4" rx="8.0" ry="5.0" transform="rotate(0 342.7 749.4)"/>
<ellipse cx="342.7" cy="749.4" rx="4.5" ry="2.7" transform="rotate(0 342.7 749.4)"/>
<ellipse cx="351.7" cy="782.7" rx="5.5" ry="8.5" transform="rotate(20 351.7 782.7)"/>
<ellipse cx="351.7" cy="782.7" rx="3.0" ry="5.5" transform="rotate(20 351.7 782.7)"/>
<ellipse cx="366.0" cy="784.5" rx="4.5" ry="8.0" transform="rotate(20 366.0 784.5)"/>
<ellipse cx="366.0" cy="784.5" rx="2.5" ry="5.0" transform="rotate(20 366.0 784.5)"/>
<path d="M319,811.5 A9,5 0 1,1 337,811.5 A9,5 0 0,1 319,811.5"/>
<ellipse cx="325.0" cy="771.0" rx="1.5" ry="2.5" transform="rotate(0 325.0 771.0)"/>
<ellipse cx="326.0" cy="798.0" rx="1.5" ry="2.5" transform="rotate(0 326.0 798.0)"/>
<circle cx="351.7" cy="817.0" r="3.0"/>
<circle cx="351.7" cy="817.0" r="1.5"/>
<ellipse cx="340.0" cy="819.0" rx="2.0" ry="3.0" transform="rotate(0 340.0 819.0)"/>
<g transform="rotate(0 327.4 695.7)"><rect x="321.1" y="690.7" width="12.5" height="10.0" rx="1.5"/><path d="M321.1,694.0 H333.6 M321.1,697.4 H333.6"/></g>
<path d="M323.9,700.7 L323.9,708.8"/>
<path d="M330.9,700.7 L330.9,708.8"/>
<path d="M323.9,700.7 L330.9,700.7"/>
<path d="M323.9,708.8 L330.9,708.8"/>
<path d="M324.0,704.0 L331.0,704.0"/>
<path d="M279.6,695.3 L321.0,698.0"/>
<ellipse cx="327.7" cy="717.5" rx="4.5" ry="2.5" transform="rotate(0 327.7 717.5)"/>
<path d="M281.4,723.2 L323.0,718.0"/>
<path d="M327.7,720.0 L327.7,756.0"/>
<path d="M327.7,735.9 L342.7,728.6 L342.7,748.5"/>
<path d="M276.9,785.4 L308.5,786.3"/>
<path d="M328.0,817.0 L328.0,851.0"/>
<path d="M342.7,829.5 L342.7,845.8 L373.3,862.9 L373.3,874.6"/>
<path d="M351.7,817.0 L380.5,831.0"/>
<ellipse cx="381.0" cy="833.0" rx="3.5" ry="3.5" transform="rotate(0 381.0 833.0)"/>
<path d="M388.6,804.3 L382.3,829.5"/>
<path d="M392,838 L400,842 Q404,850 398,853 L389,848 Z"/>
<ellipse cx="391.0" cy="842.0" rx="2.5" ry="4.0" transform="rotate(30 391.0 842.0)"/>
<path d="M413.9,819.6 L400.4,838.6"/>
<path d="M322.5,853.5 Q322.5,851 328,851 Q334,851 334,853.5 V857 M322.5,853.5 V857 Q328,860 334,857 M321,859.5 Q328,863.5 335,859.5 M320.5,862.5 Q328,866.5 335.5,862.5 M320.5,866 Q328,869.5 335.5,866 M320.2,860 V872 Q322,876 328,876 Q334,876 335.6,872 V860 M324,874.5 H332"/>
<path d="M277.6,854.8 L319.9,865.0"/>
<ellipse cx="327.8" cy="887.5" rx="6.8" ry="3.0" transform="rotate(0 327.8 887.5)"/>
<path d="M321,887.5 Q320.5,892.5 327.8,893.5 Q334.7,893.0 334.7,890.0"/>
<path d="M321,893.4 Q320.5,898.4 327.8,899.4 Q334.7,898.9 334.7,895.9"/>
<path d="M321,899.3 Q320.5,904.3 327.8,905.3 Q334.7,904.8 334.7,901.8"/>
<path d="M321,905.2 Q320.5,910.2 327.8,911.2 Q334.7,910.7 334.7,907.7"/>
<path d="M321,911.1 Q320.5,916.1 327.8,917.1 Q334.7,916.6 334.7,913.6"/>
<path d="M321,917.0 Q320.5,922.0 327.8,923.0 Q334.7,922.5 334.7,919.5"/>
<path d="M321,922.9 Q320.5,927.9 327.8,928.9 Q334.7,928.4 334.7,925.4"/>
<path d="M321,928.8 Q320.5,933.8 327.8,934.8 Q334.7,934.3 334.7,931.3"/>
<path d="M280.0,901.6 L321.0,907.3"/>
<ellipse cx="373.5" cy="880.0" rx="7.0" ry="4.5" transform="rotate(0 373.5 880.0)"/>
<ellipse cx="373.5" cy="880.0" rx="3.5" ry="2.0" transform="rotate(0 373.5 880.0)"/>
<path d="M412.3,873.1 L380.3,878.8"/>
<path d="M378,894 Q372,890 367,895 Q367,902 374,903 Q379,902 378,899"/>
<path d="M412.3,900.5 L380.0,898.0"/>
<path d="M322,944 Q322,941.5 327.8,941.5 Q333.5,941.5 333.5,944 V957 Q333.5,959.8 327.8,959.8 Q322,959.8 322,957 Z"/>
<ellipse cx="327.8" cy="944.0" rx="5.8" ry="2.5" transform="rotate(0 327.8 944.0)"/>
<path d="M322.0,954.0 L333.5,954.0"/>
<path d="M276.5,946.1 L322.0,950.7"/>
<ellipse cx="327.8" cy="970.0" rx="5.5" ry="3.5" transform="rotate(0 327.8 970.0)"/>
<path d="M277.6,969.6 L322.0,969.6"/>
<path d="M326,984 Q330,985 326,988 Q330,989 326,992 Q330,993 326,996"/>
<path d="M277.6,993.3 L325.0,990.6"/>
<ellipse cx="327.8" cy="1008.4" rx="8.5" ry="5.0" transform="rotate(0 327.8 1008.4)"/>
<path d="M277.6,1016.1 L318.7,1009.3"/>
<ellipse cx="327.8" cy="1024.3" rx="9.5" ry="5.5" transform="rotate(0 327.8 1024.3)"/>
<path d="M277.6,1038.5 L318.7,1027.5"/>
<path d="M319.2,1037 L323,1034.3 H332 L336.6,1037 V1047 L338,1049 V1054.4 L339.6,1056 V1062.2 L336,1067 L331,1069.4 H325 L319,1067 L316.2,1062.2 V1054.4 L318.3,1049 V1047.8 L319.2,1047 Z"/>
<ellipse cx="327.6" cy="1040.6" rx="5.0" ry="3.2" transform="rotate(0 327.6 1040.6)"/>
<ellipse cx="327.6" cy="1039.5" rx="6.5" ry="4.0" transform="rotate(0 327.6 1039.5)"/>
<path d="M319.2,1043 Q327.6,1050 336.6,1043 M318.5,1047.8 Q327.6,1054 338,1047.8 M316.5,1055 Q327.6,1060 339,1055 M316.5,1058 Q327.6,1063 339.5,1058 M316.2,1062.2 Q327.6,1066 339.6,1062.2 M322.5,1065 V1069 M333.3,1065 V1069 M334,1051 L335,1052"/>
<path d="M277.6,1068.2 L316.4,1055.6"/>
<path d="M249.0,952.5 L250.0,952.5"/>
<path d="M263.0,952.5 L265.0,952.5"/>
<path d="M249.0,1052.5 L250.0,1052.5"/>
<path d="M263.0,1052.5 L265.0,1052.5"/>
</g>
<g fill="#000" stroke="#000" stroke-width="0.8">
<path d="M677,160 h3 v2 h-3 Z M682,165 h3 v2 h-3 Z M677,170 h3 v2 h-3 Z M683,174 h2 v3 h-2 Z"/>
<path d="M661,230 h3 v3 h-3 Z M710,272 h3 v3 h-3 Z M690,215 h2 v6 h-2 Z M703,230 h2 v4 h-2 Z"/>
<path d="M676.2,157 h9.6 v2 h-9.6 Z M676.2,157 h2.2 v23 h-2.2 Z M683.6,160 h2.2 v18 h-2.2 Z"/>
<path d="M688.2,175 h2 v14 h-2 Z M701,179 h2 v13 h-2 Z"/>
<path d="M692.0,179.5 h2.5 v1.5 h-2 Z"/>
<path d="M673.4,188.3 h2 v3 h-2 Z"/>
<path d="M672.3,187.7 h1.5 v1.5 h-2 Z"/>
<path d="M700.1,177.6 h1.5 v3 h-2 Z"/>
<path d="M699.4,195.0 h1.5 v1.5 h-2 Z"/>
<path d="M714.7,189.4 h1.5 v3 h-2 Z"/>
<path d="M711.3,177.1 h1.5 v1.5 h-2 Z"/>
<path d="M709.2,179.1 h2 v1.5 h-2 Z"/>
<path d="M708.0,189.1 h2.5 v3 h-2 Z"/>
<path d="M681.4,189.4 h2.5 v1.5 h-2 Z"/>
<path d="M695.6,188.6 h1.5 v3 h-2 Z"/>
<path d="M672.4,180.7 h2.5 v3 h-2 Z"/>
<path d="M699.6,183.2 h2.5 v2 h-2 Z"/>
<path d="M694.8,181.7 h1.5 v3 h-2 Z"/>
<path d="M690.2,187.4 h2 v3 h-2 Z"/>
<path d="M701.2,190.0 h1.5 v1.5 h-2 Z"/>
<path d="M705.9,179.8 h2 v1.5 h-2 Z"/>
<path d="M709.3,194.1 h2 v2 h-2 Z"/>
<path d="M719.5,189.7 h2.5 v2 h-2 Z"/>
<path d="M688.0,192.0 h1.5 v1.5 h-2 Z"/>
<path d="M710.8,191.7 h2 v2 h-2 Z"/>
<path d="M756.5,212.3 a3.9,3 0 1,0 7.8,0 a3.9,3 0 1,0 -7.8,0"/>
<path d="M713,202 h4 v3 h-4 Z M743,206 l4,-1 l1,3 l-4,1 Z M750,217 l5,-1 l1,3 l-5,1 Z"/>
<path d="M252,466 H264 V460.5 L275,473 L264,485.5 V480 H252 Z"/>
<path d="M289.6,569.3 L302,582 L299,585 Z"/>
<path d="M313.4,413 L317.4,415 L315.4,417 Z"/>
<path d="M343.2,413 L347.2,415 L345.2,417 Z"/>
<path d="M247.5,308.5 L252.5,307 L256,325.3 Z"/>
<path d="M516.5,716 L528,724 L527,726 L516,718 Z"/>
<path d="M647,793 L656,799 L655,801 L646,795 Z"/>
<path d="M796.4,742.4 H826.3 V744.6 H796.4 Z"/>
<path d="M809,745 h5 v3 h-5 Z"/>
<path d="M805,819 L799.6,834.1 L795.6,832.1 Z"/>
</g>
<g fill="none" stroke="#000" stroke-width="1" stroke-linecap="square">
<path transform="translate(151.70,241.00)" d="M2,0 L0.5,2.5 M1.5,1 H5 M3.5,1 L4.5,2.5 M7.5,0 L6,2.5 M7,1 H11 M9,1 L10,2.5 M1.5,4 H10 V6.5 H2 V9 H11 Q11,12 9.5,12.5 M6,3 V13 M5.5,9 Q4,11.5 0.5,13"/>
<path transform="translate(170.06,242.00) scale(1.0,1.0)" d="M0,0.3 H6 M3,0.3 V11" vector-effect="non-scaling-stroke"/>
<path transform="translate(178.49,242.00) scale(1.0,1.0)" d="M0.2,2.2 Q0.8,0 3,0 Q5.8,0 5.8,3 Q5.8,5 0.2,11 H5.9" vector-effect="non-scaling-stroke"/>
<path transform="translate(186.92,242.00) scale(1.0,1.0)" d="M1.2,2 L3.2,0 V11" vector-effect="non-scaling-stroke"/>
<path transform="translate(195.35,242.00) scale(1.0,1.0)" d="M5.5,1.2 Q4.8,0 3,0 Q0.2,0 0.2,5.5 Q0.2,11 3,11 Q5.8,11 5.8,8 Q5.8,5 3,5 Q0.2,5 0.2,8" vector-effect="non-scaling-stroke"/>
<path transform="translate(203.78,242.00) scale(1.0,1.0)" d="M3,0 Q0.2,0 0.2,5.5 Q0.2,11 3,11 Q5.8,11 5.8,5.5 Q5.8,0 3,0 Z" vector-effect="non-scaling-stroke"/>
<path transform="translate(212.21,242.00) scale(1.0,1.0)" d="M0.5,5.8 H5.5" vector-effect="non-scaling-stroke"/>
<path transform="translate(220.64,242.00) scale(1.0,1.0)" d="M3,0 Q0.2,0 0.2,5.5 Q0.2,11 3,11 Q5.8,11 5.8,5.5 Q5.8,0 3,0 Z" vector-effect="non-scaling-stroke"/>
<path transform="translate(229.07,242.00) scale(1.0,1.0)" d="M1.2,2 L3.2,0 V11" vector-effect="non-scaling-stroke"/>
<path transform="translate(237.50,242.00) scale(1.0,1.0)" d="M0,11 L3,0 L6,11 M1.1,7.3 H4.9" vector-effect="non-scaling-stroke"/>
<path transform="translate(245.93,242.00) scale(1.0,1.0)" d="M3,0 Q0.2,0 0.2,5.5 Q0.2,11 3,11 Q5.8,11 5.8,5.5 Q5.8,0 3,0 Z" vector-effect="non-scaling-stroke"/>
<path transform="translate(257.86,241.00)" d="M0.5,0.5 H11 V12.5 H0.5 Z M3,2.5 L4,4.5 M6,2.5 L7,4.5 M9,2.5 L3,10.5 M4,6 L9,10.5"/>
<path transform="translate(273.72,241.00)" d="M5.5,0 L3,2.5 H9 M8,1.5 L9.5,3 M0.5,4.5 H11.5 M6,2.5 Q5,6 0.5,8 M6,4.5 Q8,7 11.5,8 M8,7.5 L4,9.5 M9,9 Q7,12 2,13"/>
<path transform="translate(290.08,241.00)" d="M0.5,0.5 H4 V9 H0.5 Z M0.5,4.5 H4 M5.5,0.5 H11 Q11,3 8.5,4.5 M8,0.5 Q7.5,3 5.5,4.5 M6,5.5 H11 V9 H6 Z M1.5,11 L0.5,13 M4.5,11 V13 M7.5,11 V13 M10,11 L11,13"/>
<path transform="translate(152.20,258.40) scale(1.0,1.0)" d="M6,1.8 Q5.2,0 3,0 Q0.2,0 0.2,2.7 Q0.2,5 3,5.5 Q6,6 6,8.4 Q6,11 3,11 Q0.6,11 0,9.2" vector-effect="non-scaling-stroke"/>
<path transform="translate(160.63,258.40) scale(1.0,1.0)" d="M0.2,7.3 H5.8 Q5.8,4 3,4 Q0.2,4 0.2,7.5 Q0.2,11 3,11 Q5,11 5.8,9.8" vector-effect="non-scaling-stroke"/>
<path transform="translate(169.06,258.40) scale(1.0,1.0)" d="M0.2,7.3 H5.8 Q5.8,4 3,4 Q0.2,4 0.2,7.5 Q0.2,11 3,11 Q5,11 5.8,9.8" vector-effect="non-scaling-stroke"/>
<path transform="translate(185.92,258.40) scale(1.0,1.0)" d="M6,0 H0.5 V11 M0.5,5.2 H5" vector-effect="non-scaling-stroke"/>
<path transform="translate(194.35,258.40) scale(1.0,1.0)" d="M3,1 V2 M2,4.3 H3 V11" vector-effect="non-scaling-stroke"/>
<path transform="translate(202.78,258.40) scale(1.0,1.0)" d="M5.8,4 V11 Q5.8,12.6 3,12.6 Q1.2,12.6 0.5,11.6 M5.8,7 Q5.5,4 3,4 Q0.2,4 0.2,7.3 Q0.2,10.6 3,10.6 Q5.5,10.6 5.8,8" vector-effect="non-scaling-stroke"/>
<path transform="translate(211.21,258.40) scale(1.0,1.0)" d="M2.5,10 V11" vector-effect="non-scaling-stroke"/>
<path transform="translate(219.64,258.40) scale(1.0,1.0)" d="M0,0.3 H6 M3,0.3 V11" vector-effect="non-scaling-stroke"/>
<path transform="translate(228.07,258.40) scale(1.0,1.0)" d="M0.2,2.2 Q0.8,0 3,0 Q5.8,0 5.8,3 Q5.8,5 0.2,11 H5.9" vector-effect="non-scaling-stroke"/>
<path transform="translate(236.50,258.40) scale(1.0,1.0)" d="M1.2,2 L3.2,0 V11" vector-effect="non-scaling-stroke"/>
<path transform="translate(244.93,258.40) scale(1.0,1.0)" d="M5.5,1.2 Q4.8,0 3,0 Q0.2,0 0.2,5.5 Q0.2,11 3,11 Q5.8,11 5.8,8 Q5.8,5 3,5 Q0.2,5 0.2,8" vector-effect="non-scaling-stroke"/>
<path transform="translate(253.36,258.40) scale(1.0,1.0)" d="M3,0 Q0.2,0 0.2,5.5 Q0.2,11 3,11 Q5.8,11 5.8,5.5 Q5.8,0 3,0 Z" vector-effect="non-scaling-stroke"/>
<path transform="translate(261.79,258.40) scale(1.0,1.0)" d="M0.5,5.8 H5.5" vector-effect="non-scaling-stroke"/>
<path transform="translate(270.22,258.40) scale(1.0,1.0)" d="M3,0 Q0.2,0 0.2,5.5 Q0.2,11 3,11 Q5.8,11 5.8,5.5 Q5.8,0 3,0 Z" vector-effect="non-scaling-stroke"/>
<path transform="translate(278.65,258.40) scale(1.0,1.0)" d="M1.2,2 L3.2,0 V11" vector-effect="non-scaling-stroke"/>
<path transform="translate(287.08,258.40) scale(1.0,1.0)" d="M0,11 L3,0 L6,11 M1.1,7.3 H4.9" vector-effect="non-scaling-stroke"/>
<path transform="translate(295.51,258.40) scale(1.0,1.0)" d="M3,0 Q0.2,0 0.2,5.5 Q0.2,11 3,11 Q5.8,11 5.8,5.5 Q5.8,0 3,0 Z" vector-effect="non-scaling-stroke"/>
<path transform="translate(259.70,611.60)" d="M2,0 L0.5,2.5 M1.5,1 H5 M3.5,1 L4.5,2.5 M7.5,0 L6,2.5 M7,1 H11 M9,1 L10,2.5 M1.5,4 H10 V6.5 H2 V9 H11 Q11,12 9.5,12.5 M6,3 V13 M5.5,9 Q4,11.5 0.5,13"/>
<path transform="translate(278.06,612.60) scale(1.0,1.0)" d="M0.3,0 V11 M5.7,0 V11 M0.3,5.3 H5.7" vector-effect="non-scaling-stroke"/>
<path transform="translate(286.49,612.60) scale(1.0,1.0)" d="M0.2,2.2 Q0.8,0 3,0 Q5.8,0 5.8,3 Q5.8,5 0.2,11 H5.9" vector-effect="non-scaling-stroke"/>
<path transform="translate(294.92,612.60) scale(1.0,1.0)" d="M0.2,2.2 Q0.8,0 3,0 Q5.8,0 5.8,3 Q5.8,5 0.2,11 H5.9" vector-effect="non-scaling-stroke"/>
<path transform="translate(303.35,612.60) scale(1.0,1.0)" d="M1.2,2 L3.2,0 V11" vector-effect="non-scaling-stroke"/>
<path transform="translate(311.78,612.60) scale(1.0,1.0)" d="M3,0 Q0.2,0 0.2,5.5 Q0.2,11 3,11 Q5.8,11 5.8,5.5 Q5.8,0 3,0 Z" vector-effect="non-scaling-stroke"/>
<path transform="translate(320.21,612.60) scale(1.0,1.0)" d="M0.5,5.8 H5.5" vector-effect="non-scaling-stroke"/>
<path transform="translate(328.64,612.60) scale(1.0,1.0)" d="M3,0 Q0.2,0 0.2,5.5 Q0.2,11 3,11 Q5.8,11 5.8,5.5 Q5.8,0 3,0 Z" vector-effect="non-scaling-stroke"/>
<path transform="translate(337.07,612.60) scale(1.0,1.0)" d="M0.2,2.2 Q0.8,0 3,0 Q5.8,0 5.8,3 Q5.8,5 0.2,11 H5.9" vector-effect="non-scaling-stroke"/>
<path transform="translate(345.50,612.60) scale(1.0,1.0)" d="M0,11 L3,0 L6,11 M1.1,7.3 H4.9" vector-effect="non-scaling-stroke"/>
<path transform="translate(353.93,612.60) scale(1.0,1.0)" d="M3,0 Q0.2,0 0.2,5.5 Q0.2,11 3,11 Q5.8,11 5.8,5.5 Q5.8,0 3,0 Z" vector-effect="non-scaling-stroke"/>
<path transform="translate(365.86,611.60)" d="M0.5,0.5 H11 V12.5 H0.5 Z M3,2.5 L4,4.5 M6,2.5 L7,4.5 M9,2.5 L3,10.5 M4,6 L9,10.5"/>
<path transform="translate(381.72,611.60)" d="M5.5,0 L3,2.5 H9 M8,1.5 L9.5,3 M0.5,4.5 H11.5 M6,2.5 Q5,6 0.5,8 M6,4.5 Q8,7 11.5,8 M8,7.5 L4,9.5 M9,9 Q7,12 2,13"/>
<path transform="translate(398.08,611.60)" d="M0.5,0.5 H4 V9 H0.5 Z M0.5,4.5 H4 M5.5,0.5 H11 Q11,3 8.5,4.5 M8,0.5 Q7.5,3 5.5,4.5 M6,5.5 H11 V9 H6 Z M1.5,11 L0.5,13 M4.5,11 V13 M7.5,11 V13 M10,11 L11,13"/>
<path transform="translate(260.20,629.80) scale(1.0,1.0)" d="M6,1.8 Q5.2,0 3,0 Q0.2,0 0.2,2.7 Q0.2,5 3,5.5 Q6,6 6,8.4 Q6,11 3,11 Q0.6,11 0,9.2" vector-effect="non-scaling-stroke"/>
<path transform="translate(268.63,629.80) scale(1.0,1.0)" d="M0.2,7.3 H5.8 Q5.8,4 3,4 Q0.2,4 0.2,7.5 Q0.2,11 3,11 Q5,11 5.8,9.8" vector-effect="non-scaling-stroke"/>
<path transform="translate(277.06,629.80) scale(1.0,1.0)" d="M0.2,7.3 H5.8 Q5.8,4 3,4 Q0.2,4 0.2,7.5 Q0.2,11 3,11 Q5,11 5.8,9.8" vector-effect="non-scaling-stroke"/>
<path transform="translate(293.92,629.80) scale(1.0,1.0)" d="M6,0 H0.5 V11 M0.5,5.2 H5" vector-effect="non-scaling-stroke"/>
<path transform="translate(302.35,629.80) scale(1.0,1.0)" d="M3,1 V2 M2,4.3 H3 V11" vector-effect="non-scaling-stroke"/>
<path transform="translate(310.78,629.80) scale(1.0,1.0)" d="M5.8,4 V11 Q5.8,12.6 3,12.6 Q1.2,12.6 0.5,11.6 M5.8,7 Q5.5,4 3,4 Q0.2,4 0.2,7.3 Q0.2,10.6 3,10.6 Q5.5,10.6 5.8,8" vector-effect="non-scaling-stroke"/>
<path transform="translate(319.21,629.80) scale(1.0,1.0)" d="M2.5,10 V11" vector-effect="non-scaling-stroke"/>
<path transform="translate(327.64,629.80) scale(1.0,1.0)" d="M0.3,0 V11 M5.7,0 V11 M0.3,5.3 H5.7" vector-effect="non-scaling-stroke"/>
<path transform="translate(336.07,629.80) scale(1.0,1.0)" d="M0.2,2.2 Q0.8,0 3,0 Q5.8,0 5.8,3 Q5.8,5 0.2,11 H5.9" vector-effect="non-scaling-stroke"/>
<path transform="translate(344.50,629.80) scale(1.0,1.0)" d="M0.2,2.2 Q0.8,0 3,0 Q5.8,0 5.8,3 Q5.8,5 0.2,11 H5.9" vector-effect="non-scaling-stroke"/>
<path transform="translate(352.93,629.80) scale(1.0,1.0)" d="M1.2,2 L3.2,0 V11" vector-effect="non-scaling-stroke"/>
<path transform="translate(361.36,629.80) scale(1.0,1.0)" d="M3,0 Q0.2,0 0.2,5.5 Q0.2,11 3,11 Q5.8,11 5.8,5.5 Q5.8,0 3,0 Z" vector-effect="non-scaling-stroke"/>
<path transform="translate(369.79,629.80) scale(1.0,1.0)" d="M0.5,5.8 H5.5" vector-effect="non-scaling-stroke"/>
<path transform="translate(378.22,629.80) scale(1.0,1.0)" d="M3,0 Q0.2,0 0.2,5.5 Q0.2,11 3,11 Q5.8,11 5.8,5.5 Q5.8,0 3,0 Z" vector-effect="non-scaling-stroke"/>
<path transform="translate(386.65,629.80) scale(1.0,1.0)" d="M0.2,2.2 Q0.8,0 3,0 Q5.8,0 5.8,3 Q5.8,5 0.2,11 H5.9" vector-effect="non-scaling-stroke"/>
<path transform="translate(395.08,629.80) scale(1.0,1.0)" d="M0,11 L3,0 L6,11 M1.1,7.3 H4.9" vector-effect="non-scaling-stroke"/>
<path transform="translate(403.51,629.80) scale(1.0,1.0)" d="M3,0 Q0.2,0 0.2,5.5 Q0.2,11 3,11 Q5.8,11 5.8,5.5 Q5.8,0 3,0 Z" vector-effect="non-scaling-stroke"/>
<path transform="translate(688.50,896.20)" d="M2,0 L0.5,2.5 M1.5,1 H5 M3.5,1 L4.5,2.5 M7.5,0 L6,2.5 M7,1 H11 M9,1 L10,2.5 M1.5,4 H10 V6.5 H2 V9 H11 Q11,12 9.5,12.5 M6,3 V13 M5.5,9 Q4,11.5 0.5,13"/>
<path transform="translate(706.86,897.20) scale(1.0,1.0)" d="M0.3,0 V11 M5.7,0 V11 M0.3,5.3 H5.7" vector-effect="non-scaling-stroke"/>
<path transform="translate(715.29,897.20) scale(1.0,1.0)" d="M0.2,2.2 Q0.8,0 3,0 Q5.8,0 5.8,3 Q5.8,5 0.2,11 H5.9" vector-effect="non-scaling-stroke"/>
<path transform="translate(723.72,897.20) scale(1.0,1.0)" d="M0.2,2.2 Q0.8,0 3,0 Q5.8,0 5.8,3 Q5.8,5 0.2,11 H5.9" vector-effect="non-scaling-stroke"/>
<path transform="translate(732.15,897.20) scale(1.0,1.0)" d="M1.2,2 L3.2,0 V11" vector-effect="non-scaling-stroke"/>
<path transform="translate(740.58,897.20) scale(1.0,1.0)" d="M3,0 Q0.2,0 0.2,5.5 Q0.2,11 3,11 Q5.8,11 5.8,5.5 Q5.8,0 3,0 Z" vector-effect="non-scaling-stroke"/>
<path transform="translate(749.01,897.20) scale(1.0,1.0)" d="M0.5,5.8 H5.5" vector-effect="non-scaling-stroke"/>
<path transform="translate(757.44,897.20) scale(1.0,1.0)" d="M3,0 Q0.2,0 0.2,5.5 Q0.2,11 3,11 Q5.8,11 5.8,5.5 Q5.8,0 3,0 Z" vector-effect="non-scaling-stroke"/>
<path transform="translate(765.87,897.20) scale(1.0,1.0)" d="M0.2,2.2 Q0.8,0 3,0 Q5.8,0 5.8,3 Q5.8,5 0.2,11 H5.9" vector-effect="non-scaling-stroke"/>
<path transform="translate(774.30,897.20) scale(1.0,1.0)" d="M0,11 L3,0 L6,11 M1.1,7.3 H4.9" vector-effect="non-scaling-stroke"/>
<path transform="translate(782.73,897.20) scale(1.0,1.0)" d="M3,0 Q0.2,0 0.2,5.5 Q0.2,11 3,11 Q5.8,11 5.8,5.5 Q5.8,0 3,0 Z" vector-effect="non-scaling-stroke"/>
<path transform="translate(794.66,896.20)" d="M0.5,0.5 H11 V12.5 H0.5 Z M3,2.5 L4,4.5 M6,2.5 L7,4.5 M9,2.5 L3,10.5 M4,6 L9,10.5"/>
<path transform="translate(810.52,896.20)" d="M5.5,0 L3,2.5 H9 M8,1.5 L9.5,3 M0.5,4.5 H11.5 M6,2.5 Q5,6 0.5,8 M6,4.5 Q8,7 11.5,8 M8,7.5 L4,9.5 M9,9 Q7,12 2,13"/>
<path transform="translate(826.88,896.20)" d="M0.5,0.5 H4 V9 H0.5 Z M0.5,4.5 H4 M5.5,0.5 H11 Q11,3 8.5,4.5 M8,0.5 Q7.5,3 5.5,4.5 M6,5.5 H11 V9 H6 Z M1.5,11 L0.5,13 M4.5,11 V13 M7.5,11 V13 M10,11 L11,13"/>
<path transform="translate(689.00,913.40) scale(1.0,1.0)" d="M6,1.8 Q5.2,0 3,0 Q0.2,0 0.2,2.7 Q0.2,5 3,5.5 Q6,6 6,8.4 Q6,11 3,11 Q0.6,11 0,9.2" vector-effect="non-scaling-stroke"/>
<path transform="translate(697.43,913.40) scale(1.0,1.0)" d="M0.2,7.3 H5.8 Q5.8,4 3,4 Q0.2,4 0.2,7.5 Q0.2,11 3,11 Q5,11 5.8,9.8" vector-effect="non-scaling-stroke"/>
<path transform="translate(705.86,913.40) scale(1.0,1.0)" d="M0.2,7.3 H5.8 Q5.8,4 3,4 Q0.2,4 0.2,7.5 Q0.2,11 3,11 Q5,11 5.8,9.8" vector-effect="non-scaling-stroke"/>
<path transform="translate(722.72,913.40) scale(1.0,1.0)" d="M6,0 H0.5 V11 M0.5,5.2 H5" vector-effect="non-scaling-stroke"/>
<path transform="translate(731.15,913.40) scale(1.0,1.0)" d="M3,1 V2 M2,4.3 H3 V11" vector-effect="non-scaling-stroke"/>
<path transform="translate(739.58,913.40) scale(1.0,1.0)" d="M5.8,4 V11 Q5.8,12.6 3,12.6 Q1.2,12.6 0.5,11.6 M5.8,7 Q5.5,4 3,4 Q0.2,4 0.2,7.3 Q0.2,10.6 3,10.6 Q5.5,10.6 5.8,8" vector-effect="non-scaling-stroke"/>
<path transform="translate(748.01,913.40) scale(1.0,1.0)" d="M2.5,10 V11" vector-effect="non-scaling-stroke"/>
<path transform="translate(756.44,913.40) scale(1.0,1.0)" d="M0.3,0 V11 M5.7,0 V11 M0.3,5.3 H5.7" vector-effect="non-scaling-stroke"/>
<path transform="translate(764.87,913.40) scale(1.0,1.0)" d="M0.2,2.2 Q0.8,0 3,0 Q5.8,0 5.8,3 Q5.8,5 0.2,11 H5.9" vector-effect="non-scaling-stroke"/>
<path transform="translate(773.30,913.40) scale(1.0,1.0)" d="M0.2,2.2 Q0.8,0 3,0 Q5.8,0 5.8,3 Q5.8,5 0.2,11 H5.9" vector-effect="non-scaling-stroke"/>
<path transform="translate(781.73,913.40) scale(1.0,1.0)" d="M1.2,2 L3.2,0 V11" vector-effect="non-scaling-stroke"/>
<path transform="translate(790.16,913.40) scale(1.0,1.0)" d="M3,0 Q0.2,0 0.2,5.5 Q0.2,11 3,11 Q5.8,11 5.8,5.5 Q5.8,0 3,0 Z" vector-effect="non-scaling-stroke"/>
<path transform="translate(798.59,913.40) scale(1.0,1.0)" d="M0.5,5.8 H5.5" vector-effect="non-scaling-stroke"/>
<path transform="translate(807.02,913.40) scale(1.0,1.0)" d="M3,0 Q0.2,0 0.2,5.5 Q0.2,11 3,11 Q5.8,11 5.8,5.5 Q5.8,0 3,0 Z" vector-effect="non-scaling-stroke"/>
<path transform="translate(815.45,913.40) scale(1.0,1.0)" d="M0.2,2.2 Q0.8,0 3,0 Q5.8,0 5.8,3 Q5.8,5 0.2,11 H5.9" vector-effect="non-scaling-stroke"/>
<path transform="translate(823.88,913.40) scale(1.0,1.0)" d="M0,11 L3,0 L6,11 M1.1,7.3 H4.9" vector-effect="non-scaling-stroke"/>
<path transform="translate(832.31,913.40) scale(1.0,1.0)" d="M3,0 Q0.2,0 0.2,5.5 Q0.2,11 3,11 Q5.8,11 5.8,5.5 Q5.8,0 3,0 Z" vector-effect="non-scaling-stroke"/>
<path transform="translate(723.00,154.00)" d="M1,1 H9 V9 H1"/>
<path transform="translate(735.44,154.00)" d="M1.5,1 L3.5,3 M1.5,9.5 Q7.5,8.5 9.5,2"/>
<path transform="translate(747.88,154.00)" d="M3.5,0 V10 M3.5,4 L8,6"/>
<path transform="translate(760.32,154.00)" d="M1,1.5 H9 V9.5 H1 Z"/>
<path transform="translate(772.76,154.00)" d="M1,5 H9"/>
<path transform="translate(785.20,154.00)" d="M2.5,1 V5 Q2.5,8.5 0.5,10 M5.5,1 V9.5 L9.5,6.5"/>
<path transform="translate(797.64,154.00)" d="M2.5,2 Q2.5,7 0.5,10 M5,2 L9,10 M8,0 L9,1.5 M10,-0.5 L11,1"/>
<path transform="translate(810.08,154.00)" d="M2.5,1 V5 Q2.5,8.5 0.5,10 M5.5,1 V9.5 L9.5,6.5"/>
<path transform="translate(822.52,154.00)" d="M0.5,1.5 H8.5 Q8.5,8 3,10 M9,-0.5 L10,1 M10.5,-1 L11.5,0.5"/>
<path transform="translate(723.50,168.40) scale(1.0,1.0)" d="M5.8,2 Q5.3,0 3,0 Q0.2,0 0.2,5.5 Q0.2,11 3,11 Q5.3,11 5.8,9" vector-effect="non-scaling-stroke"/>
<path transform="translate(732.00,168.40) scale(1.0,1.0)" d="M3,4 Q0.2,4 0.2,7.5 Q0.2,11 3,11 Q5.8,11 5.8,7.5 Q5.8,4 3,4 Z" vector-effect="non-scaling-stroke"/>
<path transform="translate(740.50,168.40) scale(1.0,1.0)" d="M0.5,4 V11 M0.5,5.8 Q1.5,4 3.2,4 Q5.6,4 5.6,6.5 V11" vector-effect="non-scaling-stroke"/>
<path transform="translate(749.00,168.40) scale(1.0,1.0)" d="M2.2,1 V11 H5.5 M0.3,4 H5" vector-effect="non-scaling-stroke"/>
<path transform="translate(757.50,168.40) scale(1.0,1.0)" d="M1,4 V11 M1,6.3 Q2,4 5.5,4" vector-effect="non-scaling-stroke"/>
<path transform="translate(766.00,168.40) scale(1.0,1.0)" d="M3,4 Q0.2,4 0.2,7.5 Q0.2,11 3,11 Q5.8,11 5.8,7.5 Q5.8,4 3,4 Z" vector-effect="non-scaling-stroke"/>
<path transform="translate(774.50,168.40) scale(1.0,1.0)" d="M1.8,0.3 H3 V11" vector-effect="non-scaling-stroke"/>
<path transform="translate(791.50,168.40) scale(1.0,1.0)" d="M0,0 L3,11 L6,0" vector-effect="non-scaling-stroke"/>
<path transform="translate(800.00,168.40) scale(1.0,1.0)" d="M0.8,4.5 Q1.8,4 3.3,4 Q5.6,4 5.6,6 V11 M5.6,7.2 H3 Q0.2,7.2 0.2,9.1 Q0.2,11 2.8,11 Q4.8,11 5.6,9.6" vector-effect="non-scaling-stroke"/>
<path transform="translate(808.50,168.40) scale(1.0,1.0)" d="M1.8,0.3 H3 V11" vector-effect="non-scaling-stroke"/>
<path transform="translate(817.00,168.40) scale(1.0,1.0)" d="M0,4 L3,11 L6,4" vector-effect="non-scaling-stroke"/>
<path transform="translate(825.50,168.40) scale(1.0,1.0)" d="M0.2,7.3 H5.8 Q5.8,4 3,4 Q0.2,4 0.2,7.5 Q0.2,11 3,11 Q5,11 5.8,9.8" vector-effect="non-scaling-stroke"/>
<path transform="translate(307.00,1090.00) scale(1.0,1.0)" d="M0,11 L3,0 L6,11 M1.1,7.3 H4.9" vector-effect="non-scaling-stroke"/>
<path transform="translate(328.00,1088.00)" d="M1,0.5 H4 M0,2.5 H5 M1,4.5 H4 M1,6.5 H4 M1,8.5 H4 V12.5 H1 Z M6.5,0 L7.5,2 M10.5,0 L9.5,2 M6,3 H11.5 M6.5,6 H11 M5.5,9 H12 M8.7,3 V13"/>
<path transform="translate(351.80,1088.00)" d="M3,0 L1,3.5 L4,4.5 L1,8 H5 M4,6 L5,8 M3,8 V13 M1.5,10 L0.5,12 M4.5,10 L5,12 M6.5,1.5 H11.5 V12.5 H6.5 Z M6.5,7 H11.5 M9,1.5 V12.5"/>
<path transform="translate(307.00,1107.30) scale(1.0,1.0)" d="M0.3,0 V11 H2.6 Q5.8,11 5.8,5.5 Q5.8,0 2.6,0 Z" vector-effect="non-scaling-stroke"/>
<path transform="translate(314.15,1107.30) scale(1.0,1.0)" d="M0.2,7.3 H5.8 Q5.8,4 3,4 Q0.2,4 0.2,7.5 Q0.2,11 3,11 Q5,11 5.8,9.8" vector-effect="non-scaling-stroke"/>
<path transform="translate(321.30,1107.30) scale(1.0,1.0)" d="M2.2,1 V11 H5.5 M0.3,4 H5" vector-effect="non-scaling-stroke"/>
<path transform="translate(328.45,1107.30) scale(1.0,1.0)" d="M0.8,4.5 Q1.8,4 3.3,4 Q5.6,4 5.6,6 V11 M5.6,7.2 H3 Q0.2,7.2 0.2,9.1 Q0.2,11 2.8,11 Q4.8,11 5.6,9.6" vector-effect="non-scaling-stroke"/>
<path transform="translate(335.60,1107.30) scale(1.0,1.0)" d="M3,1 V2 M2,4.3 H3 V11" vector-effect="non-scaling-stroke"/>
<path transform="translate(342.75,1107.30) scale(1.0,1.0)" d="M1.8,0.3 H3 V11" vector-effect="non-scaling-stroke"/>
<path transform="translate(357.05,1107.30) scale(1.0,1.0)" d="M0,11 L3,0 L6,11 M1.1,7.3 H4.9" vector-effect="non-scaling-stroke"/>
</g>
<g fill="none" stroke="#000" stroke-width="1.25">
<path transform="translate(781.70,1114.00) scale(0.75,0.62)" d="M0.3,11 V0 H3.3 Q5.8,0 5.8,2.8 Q5.8,5.6 3.3,5.6 H0.3" vector-effect="non-scaling-stroke"/>
<path transform="translate(792.20,1114.00) scale(0.75,0.62)" d="M0,0 L1.5,11 L3,4 L4.5,11 L6,0" vector-effect="non-scaling-stroke"/>
<path transform="translate(802.70,1114.00) scale(0.75,0.62)" d="M0.3,0 V11 M5.8,0 L0.3,7 M2.2,4.8 L5.8,11" vector-effect="non-scaling-stroke"/>
<path transform="translate(813.20,1114.00) scale(0.75,0.62)" d="M3,0 Q0.6,0 0.6,2.7 Q0.6,5.3 3,5.3 Q5.4,5.3 5.4,2.7 Q5.4,0 3,0 Z M3,5.3 Q0.2,5.3 0.2,8.2 Q0.2,11 3,11 Q5.8,11 5.8,8.2 Q5.8,5.3 3,5.3 Z" vector-effect="non-scaling-stroke"/>
<path transform="translate(823.70,1114.00) scale(0.75,0.62)" d="M0.5,9.8 Q1.2,11 3,11 Q5.8,11 5.8,5.5 Q5.8,0 3,0 Q0.2,0 0.2,3 Q0.2,6 3,6 Q5.8,6 5.8,3" vector-effect="non-scaling-stroke"/>
<path transform="translate(834.20,1114.00) scale(0.75,0.62)" d="M4.3,11 V0 L0,8 H6" vector-effect="non-scaling-stroke"/>
<path transform="translate(844.70,1114.00) scale(0.75,0.62)" d="M0.2,2.2 Q0.8,0 3,0 Q5.8,0 5.8,3 Q5.8,5 0.2,11 H5.9" vector-effect="non-scaling-stroke"/>
</g>
<g fill="none" stroke="#000" stroke-width="2.2">
<path transform="translate(224.50,465.00) scale(2.25,1.98)" d="M0,11 L3,0 L6,11 M1.1,7.3 H4.9" vector-effect="non-scaling-stroke"/>
</g>
<circle cx="623.3" cy="425.2" r="18.1" fill="#008000" stroke="#000" stroke-width="5"/>
<text x="620" y="434" font-family="Liberation Sans, sans-serif" font-size="12.5" fill="#fff" text-anchor="middle">4</text>
</svg></body></html>
